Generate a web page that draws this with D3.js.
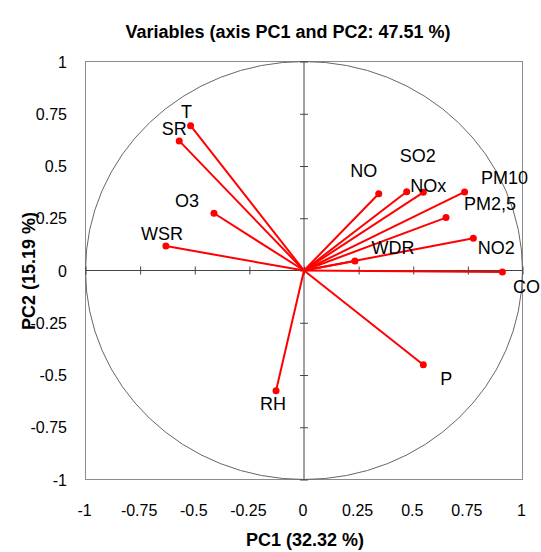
<html>
<head>
<script src="https://cdn.jsdelivr.net/npm/d3@7"></script>
<style>
  body { margin: 0; background: #fff; }
  text { font-family: "Liberation Sans", Arial, sans-serif; }
</style>
</head>
<body>
<svg width="541" height="552"></svg>
<script>
	// variable names and their loadings on PC1 / PC2
	var vars = ['T', 'SR', 'O3', 'WSR', 'NO', 'SO2', 'NOx', 'PM10', 'PM2,5', 'NO2', 'WDR', 'CO', 'RH', 'P'];
	var pc1 = [-0.519, -0.571, -0.412, -0.632, 0.342, 0.470, 0.546, 0.735, 0.650, 0.775, 0.233, 0.908, -0.128, 0.546];
	var pc2 = [0.693, 0.620, 0.274, 0.117, 0.367, 0.377, 0.374, 0.376, 0.253, 0.154, 0.045, -0.007, -0.575, -0.451];
	var ticks = [-1, -0.75, -0.5, -0.25, 0, 0.25, 0.5, 0.75, 1];

	// where each label sits relative to its point (pixels)
	var labDx = [-4, -5, -27, -4, -15, 11, 5, 40, 44, 23, 38, 24, -3, 23];
	var labDy = [-14, -12, -13, -13, -23, -36, -7, -14, -14, 9, -14, 15, 13, 14];

	var svg = d3.select('svg');

	var x = d3.scaleLinear().domain([-1, 1]).range([85.5, 522.5]);
	var y = d3.scaleLinear().domain([-1, 1]).range([479.5, 61.5]);

	// frame
	svg.append('rect')
		.attr('x', x(-1)).attr('y', y(1))
		.attr('width', x(1) - x(-1)).attr('height', y(-1) - y(1))
		.style('fill', 'none').style('stroke', '#8c8c8c').style('stroke-width', 1);

	// correlation circle
	svg.append('ellipse')
		.attr('cx', x(0)).attr('cy', y(0))
		.attr('rx', x(1) - x(0)).attr('ry', y(-1) - y(0))
		.style('fill', 'none').style('stroke', '#666').style('stroke-width', 1);

	// zero lines through the middle with cross ticks
	var axX = d3.axisBottom(x).tickValues(ticks).tickSize(8).tickFormat('');
	svg.append('g').attr('transform', 'translate(0,' + (y(0) - 4) + ')').call(axX)
		.call(function(g) { g.select('.domain').remove(); });
	svg.append('line')
		.attr('x1', x(-1)).attr('x2', x(1)).attr('y1', y(0)).attr('y2', y(0))
		.style('stroke', '#444');

	var axY = d3.axisLeft(y).tickValues(ticks).tickSize(8).tickFormat('');
	svg.append('g').attr('transform', 'translate(' + (x(0) + 4) + ',0)').call(axY)
		.call(function(g) { g.select('.domain').remove(); });
	svg.append('line')
		.attr('x1', x(0)).attr('x2', x(0)).attr('y1', y(-1)).attr('y2', y(1))
		.style('stroke', '#444');

	svg.selectAll('.tick line').style('stroke', '#444');

	// tick labels
	svg.selectAll('text.xt').data(ticks).enter().append('text')
		.attr('class', 'xt')
		.attr('x', function(d) { return x(d) - 1; })
		.attr('y', 516)
		.attr('text-anchor', 'middle')
		.style('font-size', '16px')
		.text(function(d) { return d; });

	svg.selectAll('text.yt').data(ticks).enter().append('text')
		.attr('class', 'yt')
		.attr('x', 67)
		.attr('y', function(d) { return y(d) + 6; })
		.attr('text-anchor', 'end')
		.style('font-size', '16px')
		.text(function(d) { return d; });

	// vectors
	svg.selectAll('line.vec').data(vars).enter().append('line')
		.attr('class', 'vec')
		.attr('x1', x(0)).attr('y1', y(0))
		.attr('x2', function(d, i) { return x(pc1[i]); })
		.attr('y2', function(d, i) { return y(pc2[i]); })
		.style('stroke', '#ff0000').style('stroke-width', 2);

	svg.selectAll('circle.pt').data(vars).enter().append('circle')
		.attr('class', 'pt')
		.attr('r', 3.5)
		.attr('cx', function(d, i) { return x(pc1[i]); })
		.attr('cy', function(d, i) { return y(pc2[i]); })
		.style('fill', '#ff0000');

	svg.selectAll('text.lab').data(vars).enter().append('text')
		.attr('class', 'lab')
		.attr('x', function(d, i) { return x(pc1[i]) + labDx[i]; })
		.attr('y', function(d, i) { return y(pc2[i]) + labDy[i] + 6.5; })
		.attr('text-anchor', 'middle')
		.style('font-size', '18px')
		.text(function(d) { return d; });

	// titles
	svg.append('text')
		.attr('x', 288).attr('y', 38)
		.attr('text-anchor', 'middle')
		.style('font-size', '18px').style('font-weight', 'bold')
		.text('Variables (axis PC1 and PC2: 47.51 %)');

	svg.append('text')
		.attr('x', 305).attr('y', 546)
		.attr('text-anchor', 'middle')
		.style('font-size', '18px').style('font-weight', 'bold')
		.text('PC1 (32.32 %)');

	svg.append('text')
		.attr('transform', 'translate(35,271) rotate(-90)')
		.attr('text-anchor', 'middle')
		.style('font-size', '18px').style('font-weight', 'bold')
		.text('PC2 (15.19 %)');
</script>
</body>
</html>
